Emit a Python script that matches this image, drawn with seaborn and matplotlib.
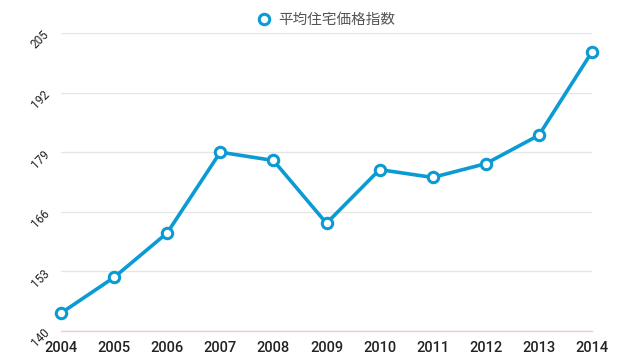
import matplotlib
matplotlib.use("Agg")
import matplotlib.pyplot as plt
import seaborn as sns
import pandas as pd

years = [2004, 2005, 2006, 2007, 2008, 2009, 2010, 2011, 2012, 2013, 2014]
index_values = [143.9, 151.7, 161.4, 179.0, 177.2, 163.5, 175.2, 173.5, 176.5, 182.7, 200.9]
y_ticks = [140, 153, 166, 179, 192, 205]
series_name = "平均住宅価格指数"

df = pd.DataFrame({"year": years, "value": index_values})

sns.set_theme(style="white")
plt.rcParams["font.family"] = ["Roboto", "Liberation Sans", "Noto Sans CJK JP", "DejaVu Sans"]

fig = plt.figure(figsize=(6.4, 3.6), dpi=100)
ax = fig.add_axes([61 / 640, 1 - 331 / 360, (592 - 61) / 640, (331 - 33) / 360])

blue = "#0a9bd5"
sns.lineplot(data=df, x="year", y="value", ax=ax, color=blue, linewidth=2.6,
             marker="o", markersize=7.5, markerfacecolor="white",
             markeredgecolor=blue, markeredgewidth=2.2, label=series_name,
             clip_on=False, zorder=3)

ax.set_xlim(2004, 2014)
ax.set_ylim(140, 205)
ax.set_xticks(years)
ax.set_yticks(y_ticks)
ax.set_xticklabels([str(y) for y in years], fontsize=10.5, color="#222222",
                   fontweight="medium")
ax.set_yticklabels([str(v) for v in y_ticks], fontsize=8.5, color="#222222",
                   rotation=45, rotation_mode="anchor", ha="right", va="center")
ax.tick_params(axis="x", length=0, pad=7)
ax.tick_params(axis="y", length=0, pad=10)
ax.set_xlabel("")
ax.set_ylabel("")

ax.yaxis.grid(True, color="#e6e6e6", linewidth=1)
ax.xaxis.grid(False)
for s in ["top", "right", "left"]:
    ax.spines[s].set_visible(False)
ax.spines["bottom"].set_color("#ffc4c4")
ax.spines["bottom"].set_linewidth(1)

leg = ax.legend(loc="upper center", bbox_to_anchor=(0.5, 1 + 33 / 298), frameon=False,
                handlelength=0.8, handletextpad=0.6, fontsize=10.5)
for t in leg.get_texts():
    t.set_color("#555555")
    t.set_family(["Noto Sans CJK JP", "DejaVu Sans"])
for h in leg.legend_handles:
    h.set_linestyle("none")

fig.savefig("out.png", dpi=100)
